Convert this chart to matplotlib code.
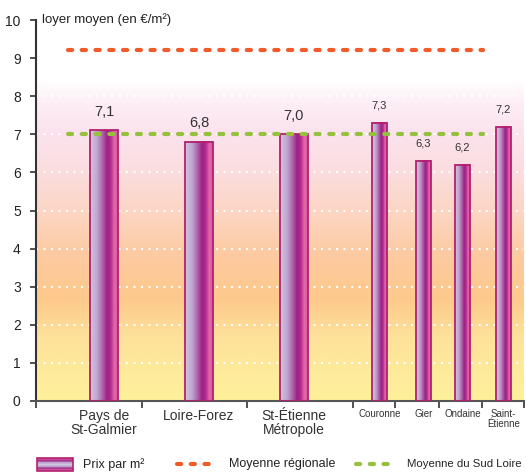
import numpy as np
import matplotlib
matplotlib.use("Agg")
import matplotlib.pyplot as plt
from matplotlib.colors import LinearSegmentedColormap
from matplotlib.patches import Rectangle
from matplotlib.lines import Line2D

plt.rcParams['font.family'] = ['Liberation Sans Narrow', 'Liberation Sans', 'DejaVu Sans']

# ---- data ----
categories = ["Pays de\nSt-Galmier", "Loire-Forez", "St-Étienne\nMétropole",
              "Couronne", "Gier", "Ondaine", "Saint-\nÉtienne"]
values = [7.1, 6.8, 7.0, 7.3, 6.3, 6.2, 7.2]
value_labels = ["7,1", "6,8", "7,0", "7,3", "6,3", "6,2", "7,2"]
is_big = [True, True, True, False, False, False, False]
moyenne_regionale = 9.2
moyenne_sud_loire = 7.0
yticks = list(range(0, 11))

# ---- layout (positions in axis units) ----
xpos = [0.645, 1.545, 2.445, 3.256, 3.673, 4.043, 4.431]
widths = [0.265 if b else 0.138 for b in is_big]
xtick_pos = [0, 1.005, 2.0, 3.005, 3.403, 3.82, 4.227, 4.626]
xmax = 4.626
line_x0, line_x1 = 0.303, 4.237

fig = plt.figure(figsize=(5.26, 4.74), dpi=100)
ax = fig.add_axes([36/526, 1-401/474, 488/526, 381/474])
ax.set_xlim(0, xmax)
ax.set_ylim(0, 10)

# background gradient
bg_stops = [(0.0, '#fef19c'), (0.2, '#fee19a'), (0.32, '#fdc98c'), (0.45, '#fdcaa0'),
            (0.6, '#fcd6c6'), (0.72, '#fbdde0'), (0.84, '#fbe3ee'), (0.93, '#fdeef5'),
            (1.0, '#ffffff')]
bg_cmap = LinearSegmentedColormap.from_list('bg', bg_stops)
grad = np.linspace(0, 1, 256).reshape(-1, 1)
ax.imshow(grad, cmap=bg_cmap, aspect='auto', origin='lower',
          extent=[0, xmax, 0, 8.4], zorder=0, interpolation='bilinear')

# dotted white grid
for v in range(1, 9):
    ax.axhline(v, color='white', lw=1.5, ls=(0, (1, 2.6)), zorder=1)

# bars with horizontal gradient
bar_stops = [(0.0, '#cfc6e0'), (0.25, '#c0a6d0'), (0.5, '#a9509f'), (0.62, '#9c1f86'),
             (0.75, '#b42d90'), (0.88, '#e46aaa'), (1.0, '#d9589c')]
bar_cmap = LinearSegmentedColormap.from_list('bar', bar_stops)
hgrad = np.linspace(0, 1, 128).reshape(1, -1)
for x, w, v, lab, big in zip(xpos, widths, values, value_labels, is_big):
    ax.imshow(hgrad, cmap=bar_cmap, aspect='auto', extent=[x - w/2, x + w/2, 0, v],
              zorder=2, interpolation='bilinear')
    ax.add_patch(Rectangle((x - w/2, 0), w, v, fill=False, ec='#b3206f', lw=1.3, zorder=3))
    ax.text(x, v + (0.3 if big else 0.33), lab, ha='center', va='bottom',
            fontsize=10.5 if big else 8, color='#333333', zorder=5)

# reference lines
lr = Line2D([line_x0, line_x1], [moyenne_regionale]*2, color='#f15a29', lw=3.0,
            dash_capstyle='round', zorder=4)
lr.set_dashes((1.0, 2.3))
ax.add_line(lr)
lg = Line2D([line_x0, line_x1], [moyenne_sud_loire]*2, color='#95c13d', lw=3.0,
            dash_capstyle='round', zorder=4)
lg.set_dashes((1.0, 2.3))
ax.add_line(lg)

# axes styling
for s in ['top', 'right']:
    ax.spines[s].set_visible(False)
ax.spines['left'].set_color('#333333')
ax.spines['bottom'].set_color('#555555')
ax.spines['left'].set_linewidth(1.5)
ax.spines['bottom'].set_linewidth(1.5)
ax.set_yticks(yticks)
ax.set_yticklabels([str(t) for t in yticks], fontsize=10, color='#222222')
ax.tick_params(axis='y', length=4, width=1.2, color='#333333', pad=7)
ax.set_xticks(xtick_pos)
ax.set_xticklabels([])
ax.tick_params(axis='x', length=5, width=1.2, color='#333333')
for x, c, big in zip(xpos, categories, is_big):
    ax.text(x, -0.22, c, ha='center', va='top', fontsize=10 if big else 7,
            color='#333333', linespacing=1.0, transform=ax.transData, clip_on=False)

ax.text(0.012, 1.0, "loyer moyen (en €/m²)", transform=ax.transAxes, ha='left',
        va='center', fontsize=9.5, color='#222222')

# legend
lax = fig.add_axes([0, 0, 1, 1], facecolor='none')
lax.set_xlim(0, 526)
lax.set_ylim(474, 0)
lax.axis('off')
vgrad = np.array([0.95, 0.6, 0.3, 0.1, 0.3, 0.6, 0.88]).reshape(-1, 1)
lax.imshow(vgrad, cmap=bar_cmap, aspect='auto', extent=[37, 73, 471, 458],
           interpolation='bilinear', zorder=1)
lax.add_patch(Rectangle((37, 458), 36, 13, fill=False, ec='#b3206f', lw=1.2, zorder=2))
lax.text(83, 465, "Prix par m²", fontsize=9, va='center', ha='left', color='#222222')
l1 = Line2D([177, 216], [464, 464], color='#f15a29', lw=3.0, dash_capstyle='round')
l1.set_dashes((1.0, 2.3))
lax.add_line(l1)
lax.text(229, 464, "Moyenne régionale", fontsize=9, va='center', ha='left', color='#222222')
l2 = Line2D([356, 397], [464, 464], color='#95c13d', lw=3.0, dash_capstyle='round')
l2.set_dashes((1.0, 2.3))
lax.add_line(l2)
lax.text(407, 464, "Moyenne du Sud Loire", fontsize=8.2, va='center', ha='left', color='#222222')

fig.savefig("out.png", dpi=100)
